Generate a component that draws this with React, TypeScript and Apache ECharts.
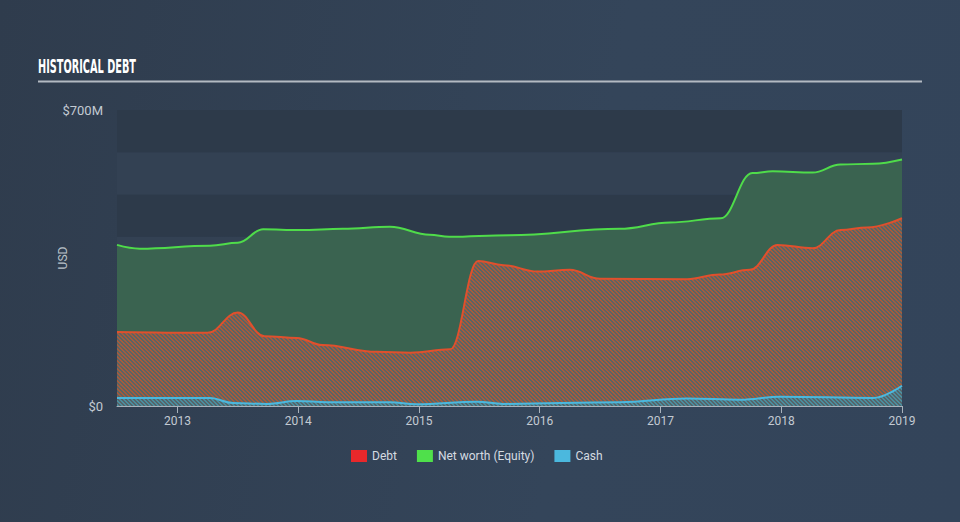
import React, { useEffect, useRef } from 'react';
import * as echarts from 'echarts';

const yearTicks = [2013, 2014, 2015, 2016, 2017, 2018, 2019];

const equityX = [2012.5, 2012.69, 2013.27, 2013.5, 2013.71, 2014.01, 2014.37, 2014.76, 2015.09, 2015.25, 2015.75, 2016.66, 2017.08, 2017.5, 2017.76, 2017.93, 2018.26, 2018.49, 2018.76, 2019.0];
const equityY = [381, 372, 379, 386, 418, 416, 419, 424, 405, 400, 404, 419, 434, 444, 551, 555, 552, 571, 573, 583];

const debtX = [2012.5, 2013.25, 2013.5, 2013.72, 2013.99, 2014.2, 2014.65, 2014.93, 2015.26, 2015.49, 2015.7, 2015.98, 2016.25, 2016.5, 2017.22, 2017.49, 2017.74, 2017.97, 2018.26, 2018.49, 2018.71, 2019.0];
const debtY = [175, 173, 221, 165, 161, 144, 128, 126, 134, 343, 333, 318, 322, 301, 300, 311, 322, 381, 373, 416, 422, 444];

const cashX = [2012.5, 2013.27, 2013.46, 2013.74, 2013.99, 2014.24, 2014.76, 2014.98, 2015.48, 2015.7, 2016.66, 2017.22, 2017.66, 2017.99, 2018.76, 2019.0];
const cashY = [19, 19, 7, 5, 12, 9, 9, 4, 10, 5, 9, 18, 15, 22, 19, 48];

const legendNames = ['Debt', 'Net worth (Equity)', 'Cash'];
const legendColors = ['#e8282b', '#4fe04b', '#4bb8de'];

function pairs(xs: number[], ys: number[]) {
  return xs.map((x, i) => [x, ys[i]]);
}

function hatch(c1: string, c2: string) {
  const cv = document.createElement('canvas');
  cv.width = 4;
  cv.height = 4;
  const ctx = cv.getContext('2d')!;
  for (let i = 0; i < 4; i++) {
    for (let j = 0; j < 4; j++) {
      ctx.fillStyle = ((i - j + 8) % 4) < 2 ? c1 : c2;
      ctx.fillRect(i, j, 1, 1);
    }
  }
  return cv;
}

export default function App() {
  const ref = useRef<HTMLDivElement>(null);
  useEffect(() => {
    if (!ref.current) return;
    const chart = echarts.init(ref.current, undefined, { renderer: 'svg' });
    const titleFont = 'bold 20px "DejaVu Sans Condensed", "DejaVu Sans", sans-serif';
    const mctx = document.createElement('canvas').getContext('2d')!;
    mctx.font = titleFont;
    const tw = mctx.measureText('HISTORICAL DEBT').width || 160;
    const sx = 98 / tw;

    const axisLabelColor = '#c3cad2';
    chart.setOption({
      animation: false,
      backgroundColor: 'transparent',
      textStyle: { fontFamily: 'Roboto, "Open Sans", sans-serif' },
      graphic: [
        {
          type: 'text',
          x: 38,
          y: 66.5,
          scaleX: sx,
          style: { text: 'HISTORICAL DEBT', font: titleFont, fill: '#ffffff', verticalAlign: 'middle', align: 'left' },
        },
        {
          type: 'line',
          shape: { x1: 38, y1: 81.5, x2: 922, y2: 81.5 },
          style: { stroke: '#b3bac2', lineWidth: 2 },
        },
        {
          type: 'text',
          x: 63,
          y: 258,
          rotation: Math.PI / 2,
          style: { text: 'USD', fill: '#b9c1c9', font: '12px Roboto, sans-serif', align: 'center', verticalAlign: 'middle' },
        },
      ],
      grid: { left: 117, right: 58, top: 110, bottom: 116 },
      legend: {
        left: 346,
        top: 445,
        itemWidth: 16,
        itemHeight: 12,
        itemGap: 20,
        icon: 'rect',
        textStyle: { color: '#d5dbe1', fontSize: 12, fontFamily: 'Roboto, sans-serif' },
        data: legendNames.map((n, i) => ({ name: n, itemStyle: { color: legendColors[i], borderWidth: 0 } })),
      },
      xAxis: {
        type: 'value',
        min: 2012.5,
        max: 2019.0,
        splitLine: { show: false },
        axisLine: { show: true, lineStyle: { color: '#a9b2bb', width: 1 } },
        axisTick: { show: true, length: 7, lineStyle: { color: '#a9b2bb' }, customValues: yearTicks },
        axisLabel: {
          color: axisLabelColor,
          fontSize: 12,
          margin: 9,
          customValues: yearTicks,
          formatter: (v: number) => String(Math.round(v)),
        },
      },
      yAxis: {
        type: 'value',
        min: 0,
        max: 700,
        interval: 100,
        axisLine: { show: false },
        axisTick: { show: false },
        splitLine: { show: false },
        splitArea: { show: true, areaStyle: { color: ['#2d3a4a', '#334153'] } },
        axisLabel: {
          color: axisLabelColor,
          fontSize: 13,
          margin: 14,
          formatter: (v: number) => (v === 700 ? '$700M' : v === 0 ? '$0' : ''),
        },
      },
      series: [
        {
          name: 'Net worth (Equity)',
          type: 'line',
          data: pairs(equityX, equityY),
          smooth: 0.4,
          smoothMonotone: 'x',
          symbol: 'none',
          itemStyle: { color: legendColors[1] },
          lineStyle: { color: '#4fdc4a', width: 2 },
          areaStyle: { color: '#3a6350', opacity: 1 },
          z: 2,
        },
        {
          name: 'Debt',
          type: 'line',
          data: pairs(debtX, debtY),
          smooth: 0.4,
          smoothMonotone: 'x',
          symbol: 'none',
          itemStyle: { color: legendColors[0] },
          lineStyle: { color: '#e0502d', width: 2 },
          areaStyle: { color: { image: hatch('#a35b3d', '#5a6464'), repeat: 'repeat' }, opacity: 1 },
          z: 3,
        },
        {
          name: 'Cash',
          type: 'line',
          data: pairs(cashX, cashY),
          smooth: 0.4,
          smoothMonotone: 'x',
          symbol: 'none',
          itemStyle: { color: legendColors[2] },
          lineStyle: { color: '#4bb8de', width: 2 },
          areaStyle: { color: { image: hatch('#4b8e9e', '#56646a'), repeat: 'repeat' }, opacity: 1 },
          z: 4,
        },
      ],
    });
    return () => chart.dispose();
  }, []);
  return (
    <div
      style={{
        position: 'fixed',
        left: 0,
        top: 0,
        width: 960,
        height: 522,
        background: 'linear-gradient(100deg, #2f3c4d 0%, #34455a 60%, #33445a 100%)',
      }}
    >
      <div ref={ref} style={{ width: 960, height: 522 }} />
    </div>
  );
}
